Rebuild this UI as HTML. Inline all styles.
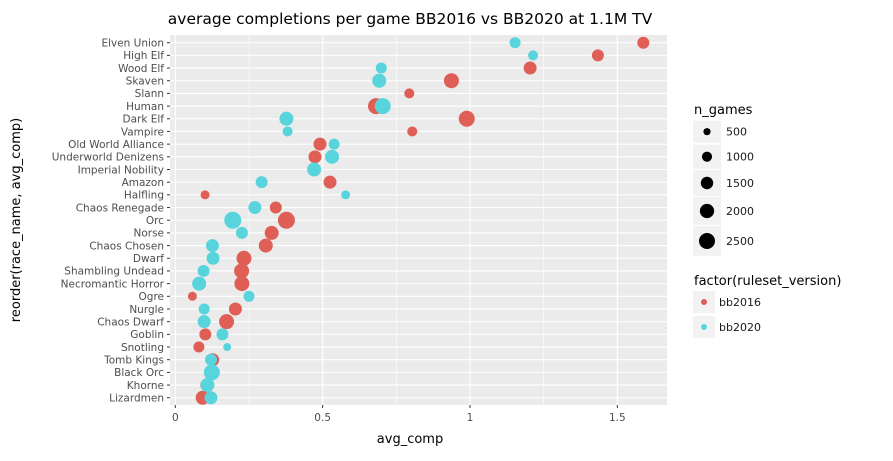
<!DOCTYPE html>
<html><head><meta charset="utf-8"><style>
body{margin:0;background:#fff;font-family:"Liberation Sans","DejaVu Sans",sans-serif;}
svg text{font-family:"DejaVu Sans","Liberation Sans",sans-serif;}
</style></head><body>
<svg id="chart" width="893" height="456" viewBox="0 0 893 456" xmlns="http://www.w3.org/2000/svg">
<rect width="893" height="456" fill="#fff"/>
<text x="410" y="24" font-size="15.5" text-anchor="middle" fill="#000">average completions per game BB2016 vs BB2020 at 1.1M TV</text>
<rect x="170" y="35" width="497" height="370" fill="#ebebeb"/>
<g id="grid"></g><g id="points"></g><g id="axes"></g>
<text transform="translate(20,220) rotate(-90)" font-size="13" text-anchor="middle" fill="#000">reorder(race_name, avg_comp)</text>
<text x="410" y="443" font-size="13" text-anchor="middle" fill="#000">avg_comp</text>
<g>
<text x="694" y="114" font-size="13" fill="#000">n_games</text>
<g id="sizeLegend"></g></g>
<g>
<text x="694" y="285" font-size="13" fill="#000">factor(ruleset_version)</text>
<g id="colorLegend"></g></g>
</svg>
<script>
const categories=["Elven Union","High Elf","Wood Elf","Skaven","Slann","Human","Dark Elf","Vampire","Old World Alliance","Underworld Denizens","Imperial Nobility","Amazon","Halfling","Chaos Renegade","Orc","Norse","Chaos Chosen","Dwarf","Shambling Undead","Necromantic Horror","Ogre","Nurgle","Chaos Dwarf","Goblin","Snotling","Tomb Kings","Black Orc","Khorne","Lizardmen"];
const comp2016=[1.588,1.434,1.204,0.937,0.794,0.681,0.989,0.804,0.491,0.474,null,0.525,0.101,0.341,0.377,0.327,0.307,0.233,0.225,0.226,0.058,0.204,0.174,0.102,0.080,0.127,0.124,0.105,0.093];
const games2016=[1406,1406,1650,2197,977,2500,2500,977,1650,1650,null,1650,791,1406,2822,1914,1914,2197,2197,2197,791,1650,2197,1406,1182,1650,1406,1406,1914];
const comp2020=[1.153,1.214,0.699,0.692,null,0.704,0.377,0.381,0.539,0.532,0.471,0.293,0.578,0.270,0.195,0.226,0.126,0.128,0.096,0.081,0.250,0.098,0.098,0.160,0.176,0.121,0.124,0.109,0.121];
const games2020=[1182,977,1182,1914,null,2500,1914,977,1182,1914,1914,1406,791,1650,2822,1406,1650,1650,1406,1914,1182,1182,1650,1406,625,1406,2500,1914,1650];
const xTicks=[0,0.5,1,1.5];
const xTickLabels=["0","0.5","1","1.5"];
const sizeBreaks=[500,1000,1500,2000,2500];
const series=["bb2016","bb2020"];
const colors={bb2016:"#df5f56",bb2020:"#58d4dc"};
const NS="http://www.w3.org/2000/svg";
const X0=170,X1=667,Y0=35,Y1=405;
const xs=v=>175.3+v*294.7;
const ys=i=>42.7+i*12.68;
const rs=n=>0.16*Math.sqrt(n);
function mk(t,a,p){const e=document.createElementNS(NS,t);for(const k in a)e.setAttribute(k,a[k]);p.appendChild(e);return e;}
const grid=document.getElementById('grid'),pts=document.getElementById('points'),axes=document.getElementById('axes');
for(let v=0.25;v<1.7;v+=0.5){const l=mk('line',{x1:xs(v),x2:xs(v),y1:Y0,y2:Y1,stroke:'#fff','stroke-width':0.55},grid);

}
xTicks.forEach((v,i)=>{const l=mk('line',{x1:xs(v),x2:xs(v),y1:Y0,y2:Y1,stroke:'#fff','stroke-width':1.1},grid);


const t=mk('line',{x1:xs(v),x2:xs(v),y1:Y1,y2:Y1+3,stroke:'#333','stroke-width':1},axes);


const tx=mk('text',{x:xs(v),y:Y1+16,'font-size':10.5,'text-anchor':'middle',fill:'#4d4d4d'},axes);tx.textContent=xTickLabels[i];

});
categories.forEach((c,i)=>{const l=mk('line',{x1:X0,x2:X1,y1:ys(i),y2:ys(i),stroke:'#fff','stroke-width':1.1},grid);


const t=mk('line',{x1:X0-3,x2:X0,y1:ys(i),y2:ys(i),stroke:'#333','stroke-width':1},axes);


const tx=mk('text',{x:X0-6,y:ys(i)+3.8,'font-size':10.5,'text-anchor':'end',fill:'#4d4d4d'},axes);tx.textContent=c;

});
[[comp2016,games2016,'bb2016'],[comp2020,games2020,'bb2020']].forEach(([cv,gv,s])=>{
cv.forEach((v,i)=>{if(v==null)return;const p=mk('circle',{cx:xs(v),cy:ys(i),r:rs(gv[i]),fill:colors[s]},pts);

});});
const sl=document.getElementById('sizeLegend');const sy=[131.7,156.7,183,211,241],sh=[22,24,26,28,30];
sizeBreaks.forEach((n,i)=>{const b=mk('rect',{x:693,y:sy[i]-sh[i]/2,width:28,height:sh[i],fill:'#f2f2f2'},sl);


const c=mk('circle',{cx:707,cy:sy[i],r:rs(n),fill:'#000'},sl);


const t=mk('text',{x:726,y:sy[i]+4,'font-size':11,fill:'#1a1a1a'},sl);t.textContent=n;

});
const cl=document.getElementById('colorLegend');const cy=[302,327];
series.forEach((s,i)=>{const b=mk('rect',{x:693,y:cy[i]-11,width:22,height:22,fill:'#f2f2f2'},cl);


const c=mk('circle',{cx:704,cy:cy[i],r:3,fill:colors[s]},cl);


const t=mk('text',{x:719,y:cy[i]+4,'font-size':11,fill:'#1a1a1a'},cl);t.textContent=s;

});
</script>
</body></html>
